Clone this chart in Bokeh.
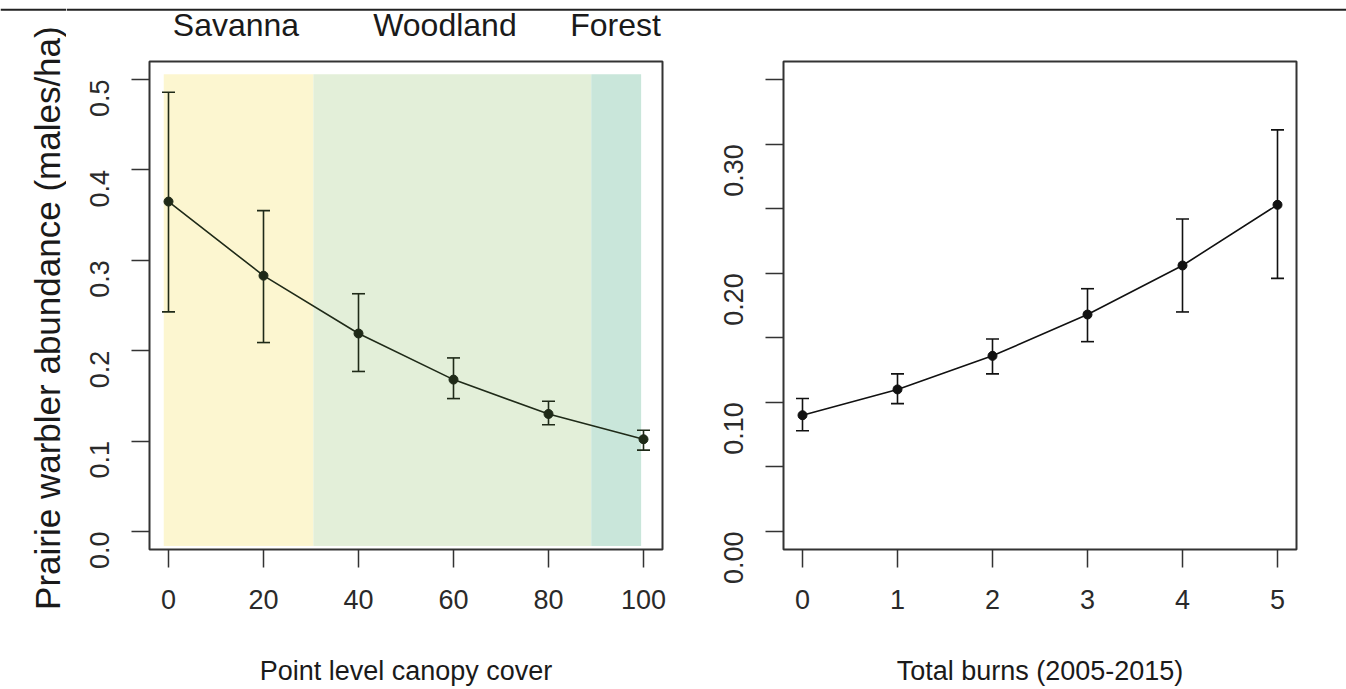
import math
from bokeh.plotting import figure
from bokeh.models import (ColumnDataSource, Range1d, Whisker, TeeHead, Span,
                          FixedTicker, PrintfTickFormatter)
from bokeh.core.properties import value
from bokeh.layouts import row, column
from bokeh.embed import file_html
from bokeh.resources import INLINE

# ---------------- data ----------------
canopy = [0, 20, 40, 60, 80, 100]
canopy_mean = [0.365, 0.283, 0.219, 0.168, 0.130, 0.102]
canopy_lo = [0.243, 0.209, 0.177, 0.147, 0.118, 0.090]
canopy_hi = [0.486, 0.355, 0.263, 0.192, 0.144, 0.112]

burns = [0, 1, 2, 3, 4, 5]
burn_mean = [0.090, 0.110, 0.136, 0.168, 0.206, 0.253]
burn_lo = [0.078, 0.099, 0.122, 0.147, 0.170, 0.196]
burn_hi = [0.103, 0.122, 0.149, 0.188, 0.242, 0.311]

zone_names = ["Savanna", "Woodland", "Forest"]
zone_start = [-1.0, 30.5, 89.0]
zone_end = [30.5, 89.0, 99.5]
zone_bottom = -0.016
zone_top = 0.506
zone_label_x = [14.2, 58.2, 94.1]

left_ticks_x = [0, 20, 40, 60, 80, 100]
left_ticks_y = [0.0, 0.1, 0.2, 0.3, 0.4, 0.5]
right_ticks_x = [0, 1, 2, 3, 4, 5]
right_ticks_y = [0.0, 0.1, 0.2, 0.3]
right_minor_y = [0.05, 0.15, 0.25, 0.35]

y_title = "Prairie warbler abundance (males/ha)"
x_title_left = "Point level canopy cover"
x_title_right = "Total burns (2005-2015)"

# ---------------- styles ----------------
zone_colors = ["#fcf6d0", "#e3efd9", "#c9e6da"]
FONT = "Liberation Sans"
TXT = "#2a2a2a"
AX = "#333333"
LEFT_INK = "#1f2a18"
RIGHT_INK = "#111111"

# layout (page pixels; Bokeh's page template has no body margin)
PAGE_W, PAGE_H = 1346, 688
PL_W = 66               # left strip holding the y title
TOP_H = 56              # top strip holding the rule and the zone names
RULE_Y = 9.3            # rule, px from top
L_LEFT, L_W = 149, 513
R_LEFT, R_W = 783, 513
F_TOP, F_H = 61, 491
W1 = 698 - PL_W
W2 = PAGE_W - 698
H = PAGE_H - TOP_H


def style(p, xticks, yticks, yfmt, xtitle, minor_y=None):
    p.xgrid.grid_line_color = None
    p.ygrid.grid_line_color = None
    p.outline_line_color = AX
    p.outline_line_width = 2
    p.background_fill_color = "white"
    p.border_fill_color = "white"
    for ax in (p.xaxis[0], p.yaxis[0]):
        ax.axis_line_color = None
        ax.major_tick_line_color = AX
        ax.major_tick_line_width = 1.5
        ax.major_tick_out = 18
        ax.major_tick_in = 0
        ax.minor_tick_in = 0
        ax.major_label_text_font = FONT
        ax.major_label_text_font_size = "27px"
        ax.major_label_text_color = TXT
        ax.axis_label_text_font = FONT
        ax.axis_label_text_font_style = "normal"
        ax.axis_label_text_color = "#1a1a1a"
    p.xaxis[0].major_label_standoff = 22
    p.yaxis[0].major_label_standoff = 32
    p.xaxis[0].ticker = FixedTicker(ticks=xticks)
    p.xaxis[0].minor_tick_line_color = None
    p.xaxis[0].axis_label = xtitle
    p.xaxis[0].axis_label_text_font_size = "27px"
    p.xaxis[0].axis_label_text_line_height = 0.5
    p.xaxis[0].axis_label_standoff = 44
    if minor_y:
        p.yaxis[0].ticker = FixedTicker(ticks=yticks, minor_ticks=minor_y)
        p.yaxis[0].minor_tick_out = 18
        p.yaxis[0].minor_tick_line_color = AX
        p.yaxis[0].minor_tick_line_width = 1.5
    else:
        p.yaxis[0].ticker = FixedTicker(ticks=yticks)
        p.yaxis[0].minor_tick_line_color = None
    p.yaxis[0].formatter = PrintfTickFormatter(format=yfmt)
    p.yaxis[0].major_label_orientation = math.pi / 2


def strip(width, height, xr, yr):
    s = figure(width=width, height=height, x_range=xr, y_range=yr,
               output_backend="svg", toolbar_location=None,
               x_axis_location=None, y_axis_location=None, min_border=0)
    s.grid.visible = False
    s.outline_line_color = None
    s.background_fill_color = "white"
    s.border_fill_color = "white"
    s.add_layout(Span(location=yr.end - RULE_Y, dimension="width",
                      line_color="#222222", line_width=2))
    return s


# ---------------- left panel ----------------
xr1 = Range1d(-4, 104)
yr1 = Range1d(-0.02, 0.52)
b1l = L_LEFT - PL_W
p1 = figure(width=W1, height=H, x_range=xr1, y_range=yr1,
            output_backend="svg", toolbar_location=None,
            min_border_left=b1l, min_border_right=W1 - b1l - L_W,
            min_border_top=F_TOP - TOP_H, min_border_bottom=H - (F_TOP - TOP_H) - F_H)
style(p1, left_ticks_x, left_ticks_y, "%.1f", x_title_left)

zsrc = ColumnDataSource(dict(left=zone_start, right=zone_end,
                             bottom=[zone_bottom] * 3, top=[zone_top] * 3,
                             color=zone_colors))
p1.quad(left="left", right="right", bottom="bottom", top="top", color="color",
        line_color=None, source=zsrc, level="underlay")

src1 = ColumnDataSource(dict(x=canopy, y=canopy_mean, lo=canopy_lo, hi=canopy_hi))
p1.line("x", "y", source=src1, line_color=LEFT_INK, line_width=1.6)
w1 = Whisker(source=src1, base="x", lower="lo", upper="hi", dimension="height",
             line_color=LEFT_INK, line_width=1.6, level="annotation",
             upper_head=TeeHead(size=13, line_color=LEFT_INK, line_width=1.6),
             lower_head=TeeHead(size=13, line_color=LEFT_INK, line_width=1.6))
p1.add_layout(w1)
p1.scatter("x", "y", source=src1, size=9, color=LEFT_INK)

# ---------------- right panel ----------------
xr2 = Range1d(-0.2, 5.2)
yr2 = Range1d(-0.014, 0.364)
b2l = R_LEFT - 698
p2 = figure(width=W2, height=H, x_range=xr2, y_range=yr2,
            output_backend="svg", toolbar_location=None,
            min_border_left=b2l, min_border_right=W2 - b2l - R_W,
            min_border_top=F_TOP - TOP_H, min_border_bottom=H - (F_TOP - TOP_H) - F_H)
style(p2, right_ticks_x, right_ticks_y, "%.2f", x_title_right, minor_y=right_minor_y)

src2 = ColumnDataSource(dict(x=burns, y=burn_mean, lo=burn_lo, hi=burn_hi))
p2.line("x", "y", source=src2, line_color=RIGHT_INK, line_width=1.6)
w2 = Whisker(source=src2, base="x", lower="lo", upper="hi", dimension="height",
             line_color=RIGHT_INK, line_width=1.6, level="annotation",
             upper_head=TeeHead(size=13, line_color=RIGHT_INK, line_width=1.6),
             lower_head=TeeHead(size=13, line_color=RIGHT_INK, line_width=1.6))
p2.add_layout(w2)
p2.scatter("x", "y", source=src2, size=9, color=RIGHT_INK)

# ---------------- top strip: rule + zone names on the canopy scale ----------------
upp = (xr1.end - xr1.start) / L_W
top_w = PAGE_W - PL_W
top_x = Range1d(xr1.start - (L_LEFT - PL_W) * upp,
                xr1.start + (PAGE_W - L_LEFT) * upp)
pt = strip(top_w, TOP_H, top_x, Range1d(0, TOP_H))
tsrc = ColumnDataSource(dict(x=zone_label_x, y=[TOP_H - 24] * 3, text=zone_names))
pt.text(x="x", y="y", text="text", source=tsrc, text_font=value(FONT),
        text_font_size="32px", text_color="#1a1a1a", text_align="center",
        text_baseline="alphabetic")

# ---------------- left strip: rule + y title ----------------
pl = strip(PL_W, PAGE_H, Range1d(0, PL_W), Range1d(0, PAGE_H))
ysrc = ColumnDataSource(dict(x=[47], y=[PAGE_H - 317.6], text=[y_title]))
pl.text(x="x", y="y", text="text", source=ysrc, angle=math.pi / 2,
        text_font=value(FONT), text_font_size="35px", text_color="#1a1a1a",
        text_align="center", text_baseline="middle")

layout = row(pl, column(pt, row(p1, p2, spacing=0), spacing=0), spacing=0)

open("out.html", "w").write(file_html(layout, INLINE))
